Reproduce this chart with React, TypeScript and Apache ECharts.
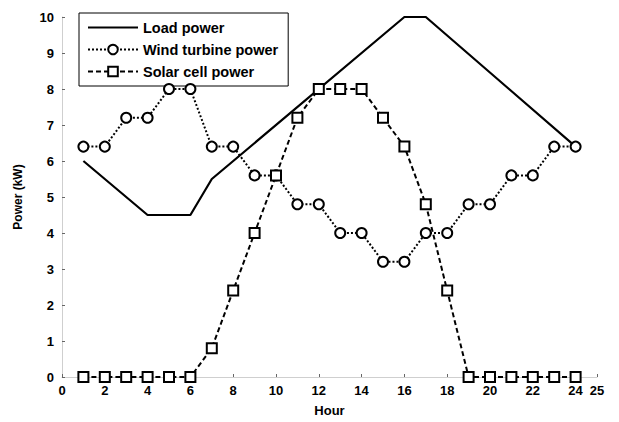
import React, { useEffect, useRef } from "react";
import * as echarts from "echarts";

const hours = [1, 2, 3, 4, 5, 6, 7, 8, 9, 10, 11, 12, 13, 14, 15, 16, 17, 18, 19, 20, 21, 22, 23, 24];
const loadPoints = [
  [1, 6],
  [4, 4.5],
  [6, 4.5],
  [7, 5.5],
  [16, 10],
  [17, 10],
  [24, 6.4],
];
const windPower = [6.4, 6.4, 7.2, 7.2, 8, 8, 6.4, 6.4, 5.6, 5.6, 4.8, 4.8, 4.0, 4.0, 3.2, 3.2, 4.0, 4.0, 4.8, 4.8, 5.6, 5.6, 6.4, 6.4];
const solarPower = [0, 0, 0, 0, 0, 0, 0.8, 2.4, 4.0, 5.6, 7.2, 8, 8, 8, 7.2, 6.4, 4.8, 2.4, 0, 0, 0, 0, 0, 0];
const xTicks = [0, 2, 4, 6, 8, 10, 12, 14, 16, 18, 20, 22, 24, 25];
const yTicks = [0, 1, 2, 3, 4, 5, 6, 7, 8, 9, 10];

const FONT = "Arial, 'Liberation Sans', Helvetica, sans-serif";

export default function App() {
  const ref = useRef<HTMLDivElement>(null);
  useEffect(() => {
    if (!ref.current) return;
    const chart = echarts.init(ref.current, null, { renderer: "svg" });
    const textStyle = { color: "#000", fontFamily: FONT, fontSize: 13, fontWeight: "bold" as const };
    chart.setOption({
      animation: false,
      backgroundColor: "#fff",
      textStyle: { fontFamily: FONT },
      grid: { left: 62, right: 22, top: 17, bottom: 38, containLabel: false },
      legend: {
        left: 79,
        top: 13,
        orient: "vertical",
        itemWidth: 50,
        itemHeight: 12,
        itemGap: 7,
        padding: [7, 10, 7, 8],
        borderColor: "#000",
        borderWidth: 1,
        backgroundColor: "#fff",
        textStyle: { ...textStyle, fontSize: 14.5, lineHeight: 14 },
        data: [
          { name: "Load power", icon: "path://M0,0h50v2.2h-50z" },
          "Wind turbine power",
          "Solar cell power",
        ],
      },
      xAxis: {
        type: "value",
        min: 0,
        max: 25,
        name: "Hour",
        nameLocation: "middle",
        nameGap: 27,
        nameTextStyle: { ...textStyle, fontSize: 13 },
        splitLine: { show: false },
        axisLine: { show: true, lineStyle: { color: "#cfcfcf", width: 1 } },
        axisTick: { show: true, inside: true, length: 3, lineStyle: { color: "#666" }, customValues: xTicks },
        axisLabel: { ...textStyle, margin: 7, customValues: xTicks },
      },
      yAxis: {
        type: "value",
        min: 0,
        max: 10,
        name: "Power (kW)",
        nameLocation: "middle",
        nameGap: 38,
        nameTextStyle: { ...textStyle, fontSize: 12 },
        splitLine: { show: false },
        axisLine: { show: true, lineStyle: { color: "#cfcfcf", width: 1 } },
        axisTick: { show: true, inside: true, length: 3, lineStyle: { color: "#666" }, customValues: yTicks },
        axisLabel: { ...textStyle, margin: 8, customValues: yTicks },
      },
      series: [
        {
          name: "Load power",
          type: "line",
          data: loadPoints,
          symbol: "none",
          lineStyle: { color: "#000", width: 2.2, type: "solid" },
          itemStyle: { color: "#000" },
          z: 3,
        },
        {
          name: "Wind turbine power",
          type: "line",
          data: hours.map((h, i) => [h, windPower[i]]),
          symbol: "circle",
          symbolSize: 10,
          showSymbol: true,
          lineStyle: { color: "#000", width: 2, type: [2, 2] },
          itemStyle: { color: "#fff", borderColor: "#000", borderWidth: 2 },
          z: 4,
        },
        {
          name: "Solar cell power",
          type: "line",
          data: hours.map((h, i) => [h, solarPower[i]]),
          symbol: "rect",
          symbolSize: 10,
          showSymbol: true,
          lineStyle: { color: "#000", width: 2, type: [5, 3] },
          itemStyle: { color: "#fff", borderColor: "#000", borderWidth: 2 },
          z: 5,
        },
      ],
    });
    return () => chart.dispose();
  }, []);
  return <div ref={ref} style={{ width: 619, height: 422, position: "absolute", left: 0, top: 0 }} />;
}
